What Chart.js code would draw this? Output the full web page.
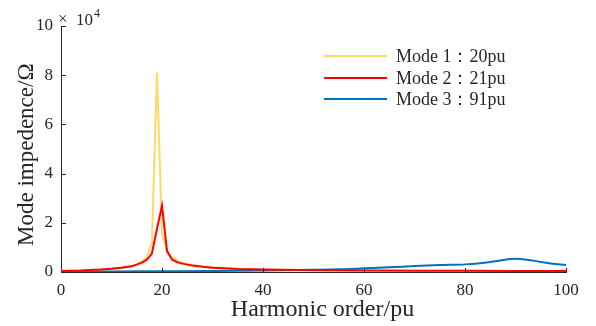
<!DOCTYPE html>
<html>
<head>
<meta charset="utf-8">
<script src="https://cdn.jsdelivr.net/npm/chart.js@4/dist/chart.umd.min.js"></script>
<style>
  html, body { margin: 0; padding: 0; background: #ffffff; }
  #wrap { position: relative; width: 596px; height: 326px; }
</style>
</head>
<body>
<div id="wrap"><canvas id="c" width="596" height="326"></canvas></div>
<script>
// Harmonic order (pu) sample points
const ordersMode12 = [0, 2, 4, 6, 8, 10, 12, 14, 15, 16, 17, 18, 19, 20, 21, 22, 23, 24, 25, 26, 28, 30, 35, 40, 50, 60, 70, 80, 90, 100];
// Mode impedance values in units of 10^4 Ω
const mode1Values = [0.05, 0.06, 0.07, 0.09, 0.11, 0.14, 0.18, 0.25, 0.33, 0.42, 0.62, 1.2, 8.1, 1.58, 0.85, 0.6, 0.47, 0.39, 0.33, 0.29, 0.23, 0.19, 0.13, 0.1, 0.08, 0.06, 0.05, 0.05, 0.04, 0.04];
const mode2Values = [0.04, 0.05, 0.06, 0.08, 0.1, 0.13, 0.17, 0.23, 0.3, 0.38, 0.5, 0.75, 1.75, 2.7, 0.85, 0.5, 0.4, 0.34, 0.3, 0.26, 0.21, 0.17, 0.12, 0.1, 0.07, 0.06, 0.05, 0.05, 0.04, 0.04];
const ordersMode3 = [0, 10, 20, 30, 40, 50, 55, 60, 65, 70, 75, 80, 83, 85, 87, 89, 90, 91, 93, 95, 97, 100];
const mode3Values = [0.02, 0.02, 0.03, 0.04, 0.06, 0.09, 0.11, 0.15, 0.19, 0.24, 0.28, 0.31, 0.36, 0.41, 0.47, 0.53, 0.54, 0.53, 0.48, 0.41, 0.35, 0.28];

const seriesLabels = ['Mode 1：20pu', 'Mode 2：21pu', 'Mode 3：91pu'];
const seriesColors = ['#FFD966', '#FF0000', '#0072BD'];
const xTickValues = [0, 20, 40, 60, 80, 100];
const yTickValues = [0, 2, 4, 6, 8, 10];
const xTitle = 'Harmonic order/pu';
const yTitle = 'Mode impedence/Ω';
const yExponentTimes = '×';
const yExponentBase = '10';
const yExponent = '4';

const toPoints = (xs, ys) => xs.map((x, i) => ({ x: x, y: ys[i] }));

const FONT = "'Liberation Serif', 'DejaVu Serif', serif";
const TEXT = '#262626';
const AXIS = '#262626';

const decorPlugin = {
  id: 'decor',
  afterDraw(chart) {
    const ctx = chart.ctx;
    const xs = chart.scales.x, ys = chart.scales.y;
    const area = chart.chartArea;
    ctx.save();
    // inward tick marks
    ctx.strokeStyle = AXIS;
    ctx.lineWidth = 1;
    ctx.beginPath();
    xTickValues.forEach(v => {
      if (v === 0) return;
      const px = Math.round(xs.getPixelForValue(v)) + 0.5;
      ctx.moveTo(px, area.bottom);
      ctx.lineTo(px, area.bottom - 4);
    });
    yTickValues.forEach(v => {
      if (v === 0) return;
      const py = Math.round(ys.getPixelForValue(v)) + 0.5;
      ctx.moveTo(area.left, py);
      ctx.lineTo(area.left + 5, py);
    });
    ctx.stroke();
    // exponent label
    ctx.fillStyle = TEXT;
    ctx.textBaseline = 'alphabetic';
    ctx.textAlign = 'left';
    ctx.font = "17px " + FONT;
    ctx.fillText(yExponentTimes, area.left - 3, 24);
    ctx.fillText(yExponentBase, area.left + 15, 25);
    const w = ctx.measureText(yExponentBase).width;
    ctx.font = "12px " + FONT;
    ctx.fillText(yExponent, area.left + 15 + w + 1, 17);
    // legend
    const lx0 = 324, lx1 = 387, tx = 396;
    const rows = [56, 78, 99];
    chart.data.datasets.forEach((ds, i) => {
      ctx.strokeStyle = ds.borderColor;
      ctx.lineWidth = 2;
      ctx.beginPath();
      ctx.moveTo(lx0, rows[i]);
      ctx.lineTo(lx1, rows[i]);
      ctx.stroke();
      ctx.fillStyle = TEXT;
      ctx.font = "18px " + FONT;
      ctx.textBaseline = 'middle';
      ctx.fillText(ds.label, tx, rows[i] + 1);
    });
    ctx.restore();
  }
};

new Chart(document.getElementById('c'), {
  type: 'line',
  data: {
    datasets: [
      { label: seriesLabels[0], data: toPoints(ordersMode12, mode1Values), borderColor: seriesColors[0], backgroundColor: seriesColors[0], borderWidth: 2, pointRadius: 0, tension: 0, order: 3 },
      { label: seriesLabels[1], data: toPoints(ordersMode12, mode2Values), borderColor: seriesColors[1], backgroundColor: seriesColors[1], borderWidth: 2, pointRadius: 0, tension: 0, order: 1 },
      { label: seriesLabels[2], data: toPoints(ordersMode3, mode3Values), borderColor: seriesColors[2], backgroundColor: seriesColors[2], borderWidth: 2, pointRadius: 0, cubicInterpolationMode: 'monotone', order: 2 }
    ]
  },
  options: {
    responsive: false,
    animation: false,
    devicePixelRatio: 1,
    layout: { padding: { left: 0, top: 26, right: 30, bottom: 0 } },
    plugins: { legend: { display: false }, tooltip: { enabled: false } },
    scales: {
      x: {
        type: 'linear', min: 0, max: 100,
        afterBuildTicks: s => { s.ticks = xTickValues.map(v => ({ value: v })); },
        afterFit: s => { s.height = 54; },
        grid: { display: true, drawOnChartArea: false, drawTicks: false },
        border: { display: true, color: AXIS, width: 1 },
        ticks: { color: TEXT, font: { family: FONT, size: 17 }, padding: 8, maxRotation: 0 },
        title: { display: true, text: '   ' + xTitle, color: TEXT, font: { family: FONT, size: 24 }, padding: { top: 0, bottom: 2 } }
      },
      y: {
        type: 'linear', min: 0, max: 10,
        afterBuildTicks: s => { s.ticks = yTickValues.map(v => ({ value: v })); },
        afterFit: s => { s.width = 61; },
        grid: { display: true, drawOnChartArea: false, drawTicks: false },
        border: { display: true, color: AXIS, width: 1 },
        ticks: { color: TEXT, font: { family: FONT, size: 17 }, padding: 8 },
        title: { display: true, text: yTitle + '  ', color: TEXT, font: { family: FONT, size: 23 }, padding: { top: 13, bottom: 0 } }
      }
    }
  },
  plugins: [decorPlugin]
});
</script>
</body>
</html>
